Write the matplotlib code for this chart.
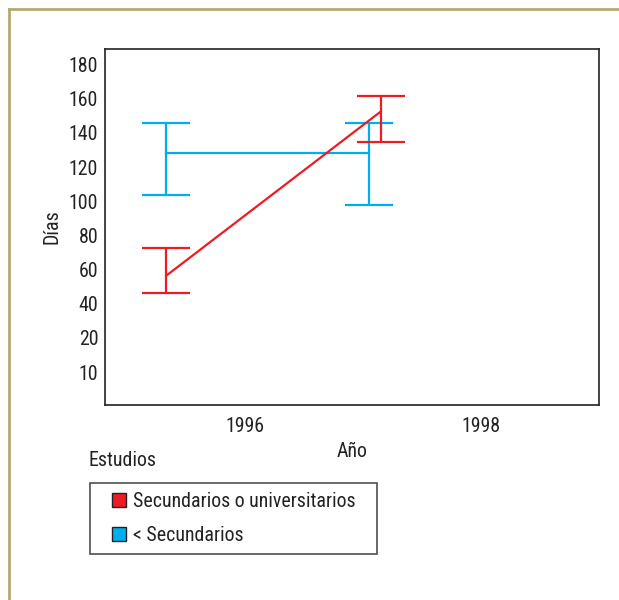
import matplotlib
matplotlib.use("Agg")
import matplotlib.pyplot as plt
from matplotlib.lines import Line2D

plt.rcParams['font.family'] = ['Roboto Condensed', 'Liberation Sans', 'DejaVu Sans']

# data
years_sec = [1995.33, 1997.15]
mean_sec = [56.5, 152.5]
low_sec = [46, 134.5]
high_sec = [72.5, 161.5]

years_prim = [1995.33, 1997.05]
mean_prim = [128.5, 128.5]
low_prim = [103.5, 98]
high_prim = [146, 146]

ytick_pos = [0, 20, 40, 60, 80, 100, 120, 140, 160, 180]
ytick_labels = ['10', '20', '40', '60', '80', '100', '120', '140', '160', '180']
xtick_pos = [1996, 1998]

red = '#ed1c24'
blue = '#00aeef'
txt = '#222222'
fs = 14.3

fig = plt.figure(figsize=(6.19, 6.0), dpi=100)
ax = fig.add_axes([0.170, 0.325, 0.797, 0.593])

# blue series first, red line sits on top
ax.errorbar(years_prim, mean_prim,
            yerr=[[m - l for m, l in zip(mean_prim, low_prim)],
                  [h - m for m, h in zip(mean_prim, high_prim)]],
            color=blue, lw=1.6, capsize=17.5, capthick=1.6, elinewidth=1.6)
ax.errorbar(years_sec, mean_sec,
            yerr=[[m - l for m, l in zip(mean_sec, low_sec)],
                  [h - m for m, h in zip(mean_sec, high_sec)]],
            color=red, lw=1.6, capsize=17.5, capthick=1.6, elinewidth=1.6)

ax.set_xlim(1994.81, 1999.0)
ax.set_ylim(-19.3, 189)
ax.set_yticks(ytick_pos)
ax.set_yticklabels(ytick_labels)
ax.set_xticks(xtick_pos)
ax.tick_params(length=0, labelsize=fs, pad=5, colors=txt)
ax.tick_params(axis='x', pad=9)
for s in ax.spines.values():
    s.set_linewidth(1.2)
    s.set_color(txt)

ax.set_ylabel('Días', fontsize=fs, color=txt, labelpad=5)
ax.set_xlabel('Año', fontsize=fs, color=txt, labelpad=4)

fig.text(88 / 619, 1 - 461 / 600, 'Estudios', fontsize=fs, color=txt,
         va='center', ha='left')

handles = [Line2D([], [], ls='none', marker='s', markersize=9.5,
                  markerfacecolor=red, markeredgecolor=txt, markeredgewidth=1),
           Line2D([], [], ls='none', marker='s', markersize=9.5,
                  markerfacecolor=blue, markeredgecolor=txt, markeredgewidth=1)]
leg = fig.legend(handles, ['Secundarios o universitarios', '< Secundarios'],
                 loc='upper left',
                 bbox_to_anchor=(90 / 619, 1 - 555 / 600, 287 / 619, 72 / 600),
                 mode='expand',
                 fontsize=fs, frameon=True, fancybox=False,
                 handlelength=2.0, handletextpad=-0.3,
                 labelspacing=0.78, borderpad=0.45, borderaxespad=0)
leg.get_frame().set_edgecolor(txt)
leg.get_frame().set_linewidth(1.2)
for t in leg.get_texts():
    t.set_color(txt)

# olive frame around the figure (top and left edges visible)
frame_color = '#b5aa6c'
fig.add_artist(Line2D([9 / 619, 1], [1 - 9 / 600, 1 - 9 / 600],
                      transform=fig.transFigure, color=frame_color, lw=2))
fig.add_artist(Line2D([9 / 619, 9 / 619], [0, 1 - 9 / 600],
                      transform=fig.transFigure, color=frame_color, lw=2))

fig.savefig('out.png', dpi=100)
